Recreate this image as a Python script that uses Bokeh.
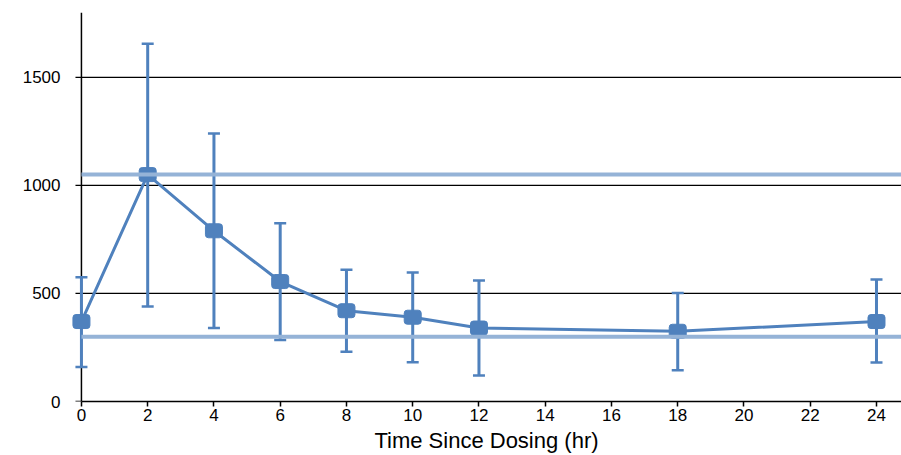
from bokeh.plotting import figure
from bokeh.models import Range1d, FixedTicker, ColumnDataSource
from bokeh.embed import file_html
from bokeh.resources import INLINE

# ---- data ----
time_hr = [0, 2, 4, 6, 8, 10, 12, 18, 24]
mean_conc = [370, 1050, 790, 555, 420, 390, 340, 325, 370]
lower_err = [160, 440, 340, 285, 230, 182, 120, 145, 180]
upper_err = [575, 1655, 1240, 825, 610, 597, 560, 502, 565]
ref_levels = [1050, 300]
x_ticks = [0, 2, 4, 6, 8, 10, 12, 14, 16, 18, 20, 22, 24]
y_ticks = [0, 500, 1000, 1500]
x_label = "Time Since Dosing (hr)"

X_START, X_END = -0.3, 24.755
Y_START, Y_END = 0, 1800
STUB = -0.18  # tick stub reach left of the y axis (data units)
BLUE = "#4f81bd"
LIGHT = "#95b3d7"
FONT = "Liberation Sans"

p = figure(width=901, height=455, output_backend="svg", toolbar_location=None,
           x_range=Range1d(X_START, X_END), y_range=Range1d(Y_START, Y_END),
           min_border_left=71, min_border_right=0, min_border_top=12, min_border_bottom=53)
p.outline_line_color = None
p.background_fill_color = "white"
p.border_fill_color = "white"
p.xgrid.visible = False
p.ygrid.visible = False

# x axis
xa = p.xaxis[0]
xa.ticker = FixedTicker(ticks=x_ticks)
xa.bounds = (0, X_END)
xa.axis_line_color = "black"
xa.axis_line_width = 1.5
xa.major_tick_line_color = "black"
xa.major_tick_line_width = 1.5
xa.major_tick_out = 5
xa.major_tick_in = 0
xa.minor_tick_line_color = None
xa.major_label_text_font = FONT
xa.major_label_text_font_size = "17px"
xa.major_label_text_color = "black"
xa.major_label_standoff = 2
xa.axis_label = x_label
xa.axis_label_text_font = FONT
xa.axis_label_text_font_size = "22px"
xa.axis_label_text_font_style = "normal"
xa.axis_label_text_color = "black"
xa.axis_label_standoff = 4

# y axis: labels only; line and ticks drawn at x = 0 below
ya = p.yaxis[0]
ya.ticker = FixedTicker(ticks=y_ticks)
ya.axis_line_color = None
ya.major_tick_line_color = None
ya.minor_tick_line_color = None
ya.major_label_text_font = FONT
ya.major_label_text_font_size = "17px"
ya.major_label_text_color = "black"
ya.major_label_standoff = 5

n = len(y_ticks)
# gridlines with outward tick stubs
p.segment(x0=[STUB] * n, x1=[0 if v == 0 else X_END for v in y_ticks],
          y0=y_ticks, y1=y_ticks, line_color="black", line_width=1.3)
# y axis line
p.segment(x0=[0], x1=[0], y0=[Y_START], y1=[Y_END], line_color="black", line_width=1.5)

src = ColumnDataSource(dict(t=time_hr, m=mean_conc, lo=lower_err, hi=upper_err))

# error bars
p.segment(x0="t", x1="t", y0="lo", y1="hi", source=src, line_color=BLUE, line_width=3)
p.scatter(x="t", y="lo", source=src, marker="dash", size=12, line_color=BLUE, line_width=2.5)
p.scatter(x="t", y="hi", source=src, marker="dash", size=12, line_color=BLUE, line_width=2.5)

# mean line and markers
p.line(x="t", y="m", source=src, line_color=BLUE, line_width=3)
p.rect(x="t", y="m", width=17, height=14, width_units="screen", height_units="screen",
       source=src, fill_color=BLUE, line_color=BLUE, line_width=1, border_radius=3)

# reference lines
p.segment(x0=[0] * len(ref_levels), x1=[X_END] * len(ref_levels),
          y0=ref_levels, y1=ref_levels, line_color=LIGHT, line_width=4)

open("out.html", "w").write(file_html(p, INLINE))
